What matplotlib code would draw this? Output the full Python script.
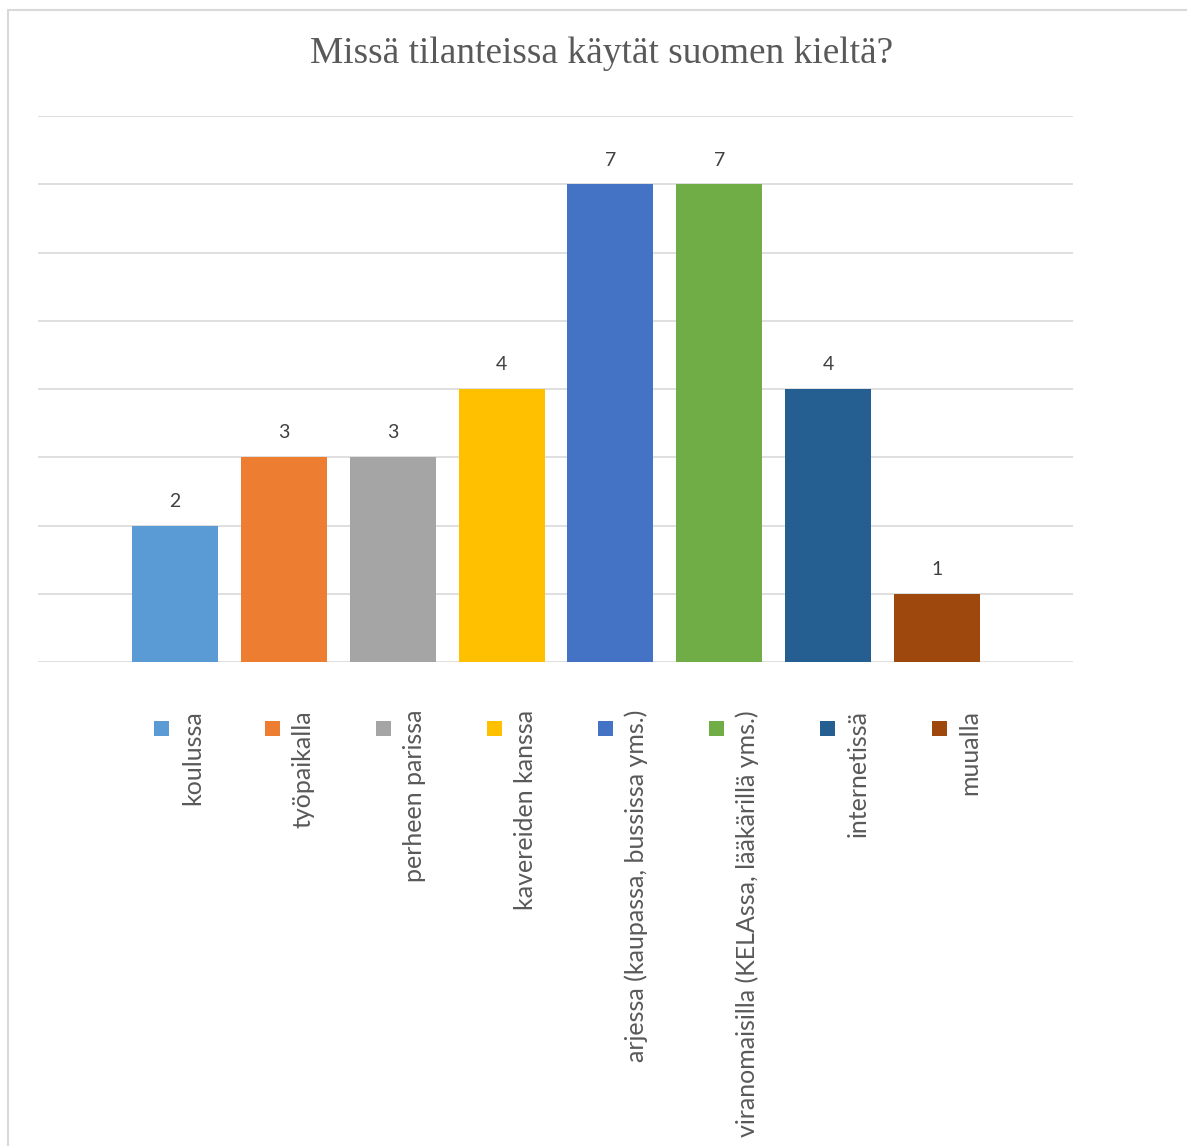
import matplotlib
matplotlib.use("Agg")
import matplotlib.pyplot as plt
import matplotlib.transforms as mtransforms
from matplotlib.lines import Line2D

categories = ["koulussa", "työpaikalla", "perheen parissa", "kavereiden kanssa",
              "arjessa (kaupassa, bussissa yms.)",
              "viranomaisilla (KELAssa, lääkärillä yms.)",
              "internetissä", "muualla"]
values = [2, 3, 3, 4, 7, 7, 4, 1]
colors = ["#5B9BD5", "#ED7D31", "#A5A5A5", "#FFC000",
          "#4472C4", "#70AD47", "#255E91", "#9E480E"]
title = "Missä tilanteissa käytät suomen kieltä?"

W, H = 1187, 1146
fig = plt.figure(figsize=(W / 100, H / 100), dpi=100)
fig.patch.set_facecolor("white")

ax = fig.add_axes([38 / W, 1 - 662 / H, (1073 - 38) / W, (662 - 116) / H])
x = list(range(len(categories)))
ax.bar(x, values, width=0.79, color=colors, zorder=3)
ax.set_ylim(0, 8)
ax.set_xlim(-1.258, 8.249)
ax.set_yticks(range(0, 9))
ax.yaxis.grid(True, color="#D9D9D9", linewidth=1.2, zorder=0)
ax.set_axisbelow(True)
ax.tick_params(left=False, bottom=False, labelleft=False, labelbottom=False)
for s in ax.spines.values():
    s.set_visible(False)

for xi, v in zip(x, values):
    ax.annotate(str(v), (xi, v), xytext=(0, 13.5), textcoords="offset points",
                ha="center", va="baseline", fontsize=14, color="#404040",
                family="Lato")

# legend laid out below the plot area, one rotated entry per category
leg_start = 0.1193
leg_step = 0.10725
for i, (cat, c) in enumerate(zip(categories, colors)):
    lx = leg_start + i * leg_step
    ax.scatter([lx], [-0.12], marker="s", s=(15 * 0.72) ** 2, color=c,
               transform=ax.transAxes, clip_on=False, linewidths=0)
    tx_tr = ax.transAxes + mtransforms.ScaledTranslation(31 / 100, 0, fig.dpi_scale_trans)
    ax.text(lx, -0.0879, cat, rotation=90, ha="center", va="top",
            transform=tx_tr, fontsize=18, color="#595959", family="Lato",
            clip_on=False)

fig.text(602 / W, 1 - 54 / H, title, ha="center", va="center",
         fontsize=26.9, color="#595959", family="Liberation Serif")

fig.add_artist(Line2D([8 / W, 8 / W], [0, 1 - 10 / H], color="#D9D9D9",
                      linewidth=1.5, transform=fig.transFigure))
fig.add_artist(Line2D([8 / W, 1], [1 - 10 / H, 1 - 10 / H], color="#D9D9D9",
                      linewidth=1.5, transform=fig.transFigure))

fig.savefig("out.png", dpi=100, facecolor="white")
